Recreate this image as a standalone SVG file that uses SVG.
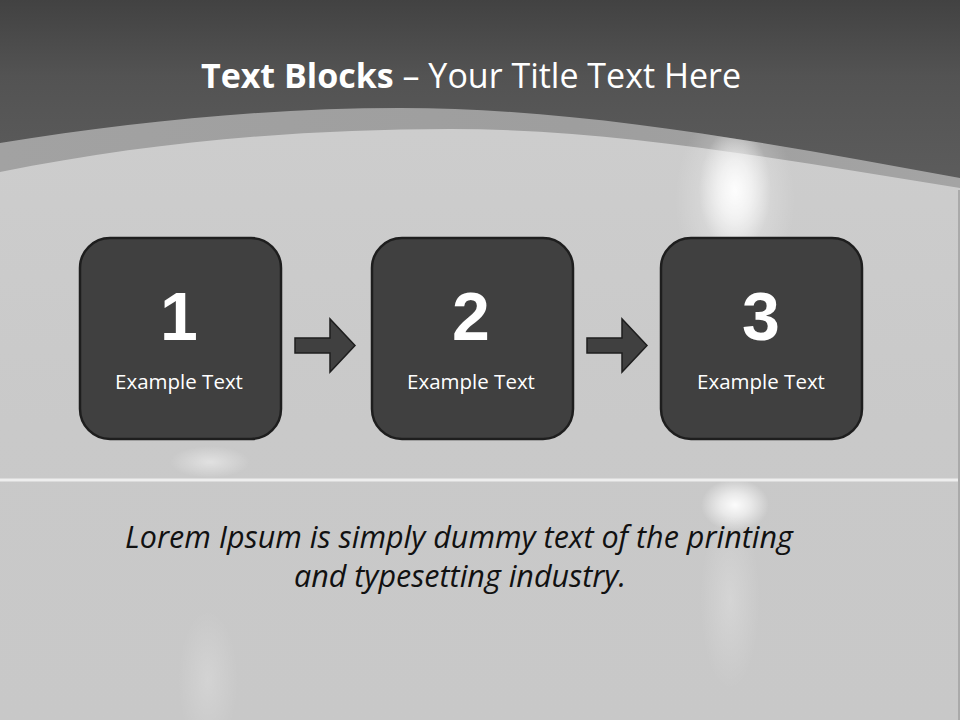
<svg xmlns="http://www.w3.org/2000/svg" width="960" height="720" viewBox="0 0 960 720">
<style>
.box{fill:#404040;stroke:#1e1e1e;stroke-width:2.5}
.arrow{fill:#404040;stroke:#1e1e1e;stroke-width:1.5;stroke-linejoin:miter}
.num{font-family:"Liberation Sans",Arial,sans-serif;font-weight:bold;font-size:68px;fill:#ffffff;text-anchor:middle}
.lbl{font-family:"Open Sans","Liberation Sans",sans-serif;font-size:20.5px;fill:#ffffff;text-anchor:middle}
.title{font-family:"Open Sans","Liberation Sans",sans-serif;font-size:34px;fill:#ffffff;text-anchor:middle}
.lorem{font-family:"Open Sans","Liberation Sans",sans-serif;font-style:italic;font-size:30.5px;fill:#111111;text-anchor:middle}
</style>
<defs>
<linearGradient id="topg" gradientUnits="userSpaceOnUse" x1="0" y1="0" x2="0" y2="190">
<stop offset="0" stop-color="#424242"/>
<stop offset="0.4" stop-color="#535353"/>
<stop offset="1" stop-color="#5d5d5d"/>
</linearGradient>
<linearGradient id="bandg" x1="0" y1="0" x2="1" y2="0">
<stop offset="0" stop-color="#a2a2a2"/>
<stop offset="0.6" stop-color="#9e9e9e"/>
<stop offset="1" stop-color="#a4a4a4"/>
</linearGradient>
<linearGradient id="lightg" x1="0" y1="0" x2="0" y2="1">
<stop offset="0" stop-color="#cdcdcd"/>
<stop offset="0.5" stop-color="#c9c9c9"/>
<stop offset="1" stop-color="#c8c8c8"/>
</linearGradient>
<radialGradient id="glow">
<stop offset="0" stop-color="#ffffff" stop-opacity="0.95"/>
<stop offset="0.45" stop-color="#ffffff" stop-opacity="0.6"/>
<stop offset="1" stop-color="#ffffff" stop-opacity="0"/>
</radialGradient>
<radialGradient id="glowSoft">
<stop offset="0" stop-color="#ffffff" stop-opacity="0.45"/>
<stop offset="1" stop-color="#ffffff" stop-opacity="0"/>
</radialGradient>
<clipPath id="belowOuter">
<path d="M0,143 C133,121.7 267,108 400,108 C587,108 773,144.3 960,178 L960,720 L0,720 Z"/>
</clipPath>
</defs>

<g id="background">
<rect x="0" y="0" width="960" height="720" fill="url(#topg)"/>
<path d="M0,143 C133,121.7 267,108 400,108 C587,108 773,144.3 960,178 L960,720 L0,720 Z" fill="url(#bandg)"/>
<path d="M0,172 C150,142 300,129 450,129 C620,129 790,161 960,188 L960,720 L0,720 Z" fill="url(#lightg)"/>
<g clip-path="url(#belowOuter)">
<ellipse cx="735" cy="190" rx="36" ry="62" fill="url(#glow)"/>
<ellipse cx="735" cy="200" rx="60" ry="95" fill="url(#glowSoft)"/>
</g>
<ellipse cx="210" cy="462" rx="40" ry="16" fill="url(#glowSoft)"/>
<ellipse cx="735" cy="505" rx="34" ry="26" fill="url(#glow)"/>
<ellipse cx="730" cy="600" rx="30" ry="90" fill="url(#glowSoft)" opacity="0.5"/>
<ellipse cx="208" cy="680" rx="30" ry="70" fill="url(#glowSoft)" opacity="0.45"/>
<rect x="0" y="478.5" width="960" height="3" fill="#eeeeee"/>
<rect x="958" y="190" width="2" height="530" fill="#aaaaaa"/>
</g>

<g id="title">
<text class="title" x="471" y="88"><tspan font-weight="bold">Text Blocks</tspan> – Your Title Text Here</text>
</g>

<g id="connectors">
<path class="arrow" d="M295,338 L330,338 L330,319 L355,345.5 L330,372 L330,353 L295,353 Z"/>
<path class="arrow" d="M587,338 L622,338 L622,319 L647,345.5 L622,372 L622,353 L587,353 Z"/>
</g>

<g id="node1">
<rect class="box" x="80" y="238" width="201" height="201" rx="30" ry="30"/>
<text class="num" x="179" y="340">1</text>
<text class="lbl" x="179" y="389">Example Text</text>
</g>
<g id="node2">
<rect class="box" x="372" y="238" width="201" height="201" rx="30" ry="30"/>
<text class="num" x="471" y="340">2</text>
<text class="lbl" x="471" y="389">Example Text</text>
</g>
<g id="node3">
<rect class="box" x="661" y="238" width="201" height="201" rx="30" ry="30"/>
<text class="num" x="761" y="340">3</text>
<text class="lbl" x="761" y="389">Example Text</text>
</g>

<g id="body">
<text class="lorem" x="459" y="548">Lorem Ipsum is simply dummy text of the printing</text>
<text class="lorem" x="460" y="587">and typesetting industry.</text>
</g>
</svg>
